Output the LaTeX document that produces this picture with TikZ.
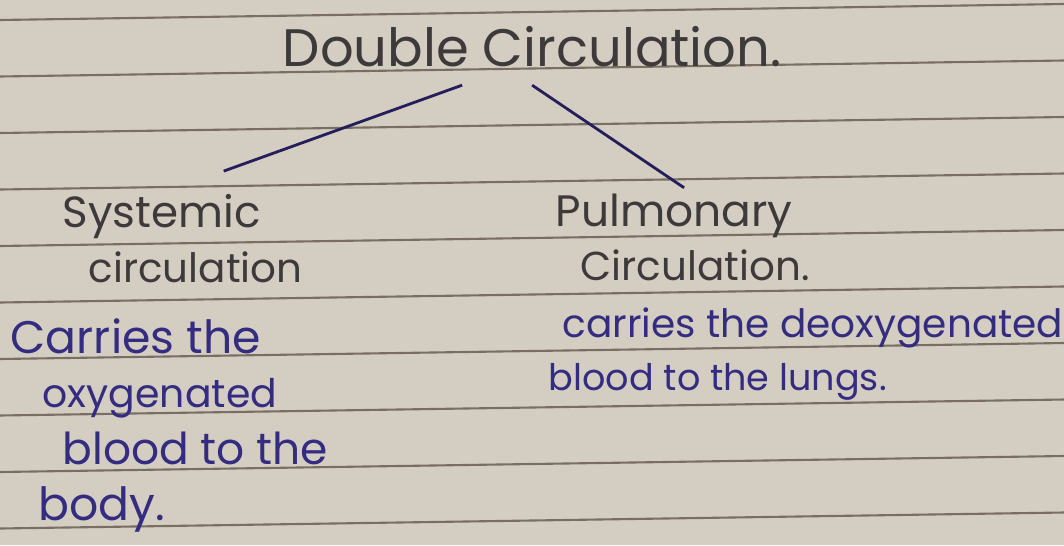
\documentclass[tikz,border=0pt]{standalone}
\usepackage{fontspec}
\setmainfont{Poppins}
\definecolor{paper}{RGB}{212,205,193}
\definecolor{rule}{RGB}{120,110,100}
\definecolor{pencil}{RGB}{62,58,60}
\definecolor{ink}{RGB}{52,44,128}

\begin{document}
\begin{tikzpicture}[x=0.01cm, y=-0.01cm,
  heading/.style={anchor=base west, inner sep=0pt, text=pencil, font=\fontsize{12.4}{15}\selectfont},
  note/.style={anchor=base west, inner sep=0pt, text=ink, font=\fontsize{12.5}{15}\selectfont},
  branch/.style={draw=ink!70!black, line width=0.8pt}]

% Papel
\fill[paper] (0,0) rectangle (1064,545);
\useasboundingbox (0,0) rectangle (1064,545);

% Pautas
\foreach \k in {0,...,9}
  \draw[rule, line width=0.6pt] (0,20+56.5*\k) -- (1064,4+56.5*\k);

% Titulo
\node[heading, font=\fontsize{15}{18}\selectfont] (title) at (282,66) {Double Circulation.};

% Ramos
\node[heading] (sys) at (62,227) {Systemic};
\node[heading, font=\fontsize{11.5}{14}\selectfont] (sys2) at (88,282) {circulation};
\node[heading, font=\fontsize{12.5}{15}\selectfont] (pul) at (555,226) {Pulmonary};
\node[heading, font=\fontsize{11.5}{14}\selectfont] (pul2) at (580,280) {Circulation.};

\draw[branch] ([shift={(-70,18)}]title.south) -- ([shift={(62,-22)}]sys.north);
\draw[branch] ([shift={(0,18)}]title.south) -- ([shift={(10,-5)}]pul.north);

% Definicoes
\node[note, font=\fontsize{13}{15}\selectfont] (sysa) at (10,353) {Carries the};
\node[note, font=\fontsize{11.2}{14}\selectfont] (sysb) at (42,407) {oxygenated};
\node[note] (sysc) at (62,464) {blood to the};
\node[note, font=\fontsize{13}{15}\selectfont] (sysd) at (38,520) {body.};

\node[note, font=\fontsize{11.1}{14}\selectfont] (pula) at (562,337) {carries the deoxygenated};
\node[note, font=\fontsize{10.4}{13}\selectfont] (pulb) at (548,390) {blood to the lungs.};

\end{tikzpicture}
\end{document}
